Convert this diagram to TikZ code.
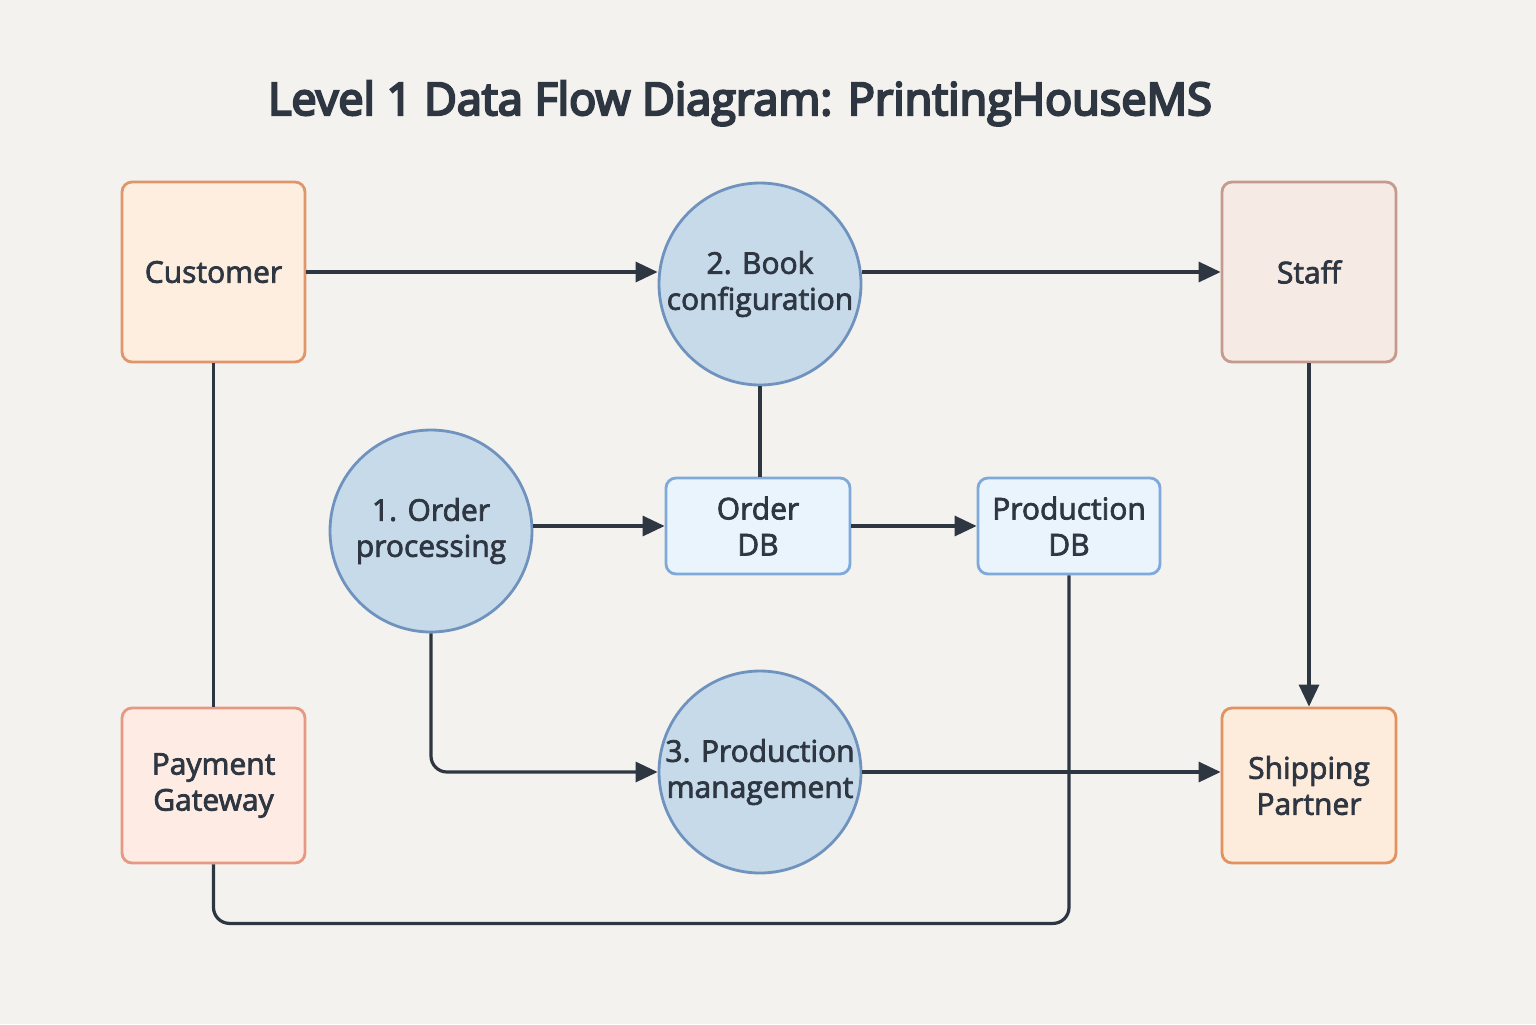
\documentclass[tikz,border=0pt]{standalone}
\usepackage{fontspec}
\setmainfont{Open Sans}
\newfontfamily\dfdmedium{Open Sans}[FakeBold=2.5]
\newfontfamily\dfdheavy{Open Sans}[FakeBold=5]
\usepackage{xcolor}
\usepackage{tikz}
\usetikzlibrary{arrows.meta,calc}
\definecolor{bgpaper}{HTML}{F4F2EE}
\definecolor{ink}{HTML}{2E3642}
\definecolor{custfill}{HTML}{FDEEDF}
\definecolor{custdraw}{HTML}{E0956A}
\definecolor{stafffill}{HTML}{F5EAE4}
\definecolor{staffdraw}{HTML}{C79A8E}
\definecolor{payfill}{HTML}{FDEBE4}
\definecolor{paydraw}{HTML}{E79883}
\definecolor{shipfill}{HTML}{FDECDC}
\definecolor{shipdraw}{HTML}{E2925E}
\definecolor{procfill}{HTML}{C7DAE9}
\definecolor{procdraw}{HTML}{6F93BE}
\definecolor{storefill}{HTML}{EAF4FD}
\definecolor{storedraw}{HTML}{7EA9DA}
\pgfkeys{tikz/dfdentity/.style={rectangle,rounded corners=5pt,line width=1.4pt,align=center,font=\dfdmedium\fontsize{15}{18}\selectfont,text=ink}}
\pgfkeys{tikz/dfdprocess/.style={circle,minimum size=101pt,inner sep=0pt,line width=1.4pt,draw=procdraw,fill=procfill,align=center,font=\dfdmedium\fontsize{15}{18}\selectfont,text=ink}}
\pgfkeys{tikz/dfdstore/.style={rectangle,rounded corners=5pt,minimum width=92pt,minimum height=48pt,line width=1.4pt,draw=storedraw,fill=storefill,align=center,font=\dfdmedium\fontsize{15}{18}\selectfont,text=ink}}
\pgfkeys{tikz/dfdflow/.style={draw=ink,line width=1.6pt,-{Triangle[length=11pt,width=10pt]}}}
\pgfkeys{tikz/dfdlink/.style={draw=ink,line width=1.6pt}}
\newcommand\dfdtitlefont{\dfdheavy\fontsize{22.5}{27}\selectfont}

\begin{document}
\begin{tikzpicture}[x=0.5pt,y=-0.5pt]
    \fill[bgpaper] (0,0) rectangle (1536,1024);
    \useasboundingbox (0,0) rectangle (1536,1024);
    \node[text=ink,font=\dfdtitlefont,anchor=base] (title) at (740,115) {Level 1 Data Flow Diagram: PrintingHouseMS};
    % external entities
    \node[dfdentity,draw=custdraw,fill=custfill,minimum width=91.5pt,minimum height=90pt] (cust) at (213.5,272) {Customer};
    \node[dfdentity,draw=staffdraw,fill=stafffill,minimum width=87pt,minimum height=90pt] (staff) at (1309,272) {Staff};
    \node[dfdentity,draw=paydraw,fill=payfill,minimum width=91.5pt,minimum height=77.5pt] (pay) at (213.5,785.5) {Payment\\Gateway};
    \node[dfdentity,draw=shipdraw,fill=shipfill,minimum width=87pt,minimum height=77.5pt] (ship) at (1309,785.5) {Shipping\\Partner};
    % processes
    \node[dfdprocess] (p1) at (431,531) {1. Order\\processing};
    \node[dfdprocess] (p2) at (760,284) {2. Book\\configuration};
    \node[dfdprocess] (p3) at (760,772) {3. Production\\management};
    % data stores
    \node[dfdstore] (odb) at (758,526) {Order\\DB};
    \node[dfdstore,minimum width=91pt] (pdb) at (1069,526) {Production\\DB};
    % flows
    \draw[dfdflow] (cust.east) -- (cust.east -| p2.west);
    \draw[dfdflow] (p2.east |- staff.west) -- (staff.west);
    \draw[dfdlink] (cust.south) -- (pay.north);
    \draw[dfdlink] (p2.south) -- (p2.south |- odb.north);
    \draw[dfdflow] (odb.west -| p1.east) -- (odb.west);
    \draw[dfdflow] (odb.east) -- (pdb.west);
    \draw[dfdflow] (staff.south) -- (ship.north);
    \draw[dfdflow,rounded corners=8pt] (p1.south) |- (p3.west);
    \draw[dfdflow] (p3.east) -- (p3.east -| ship.west);
    \draw[dfdlink,rounded corners=8pt] (pay.south) -- ++(0,59) -| (pdb.south);
\end{tikzpicture}
\end{document}
